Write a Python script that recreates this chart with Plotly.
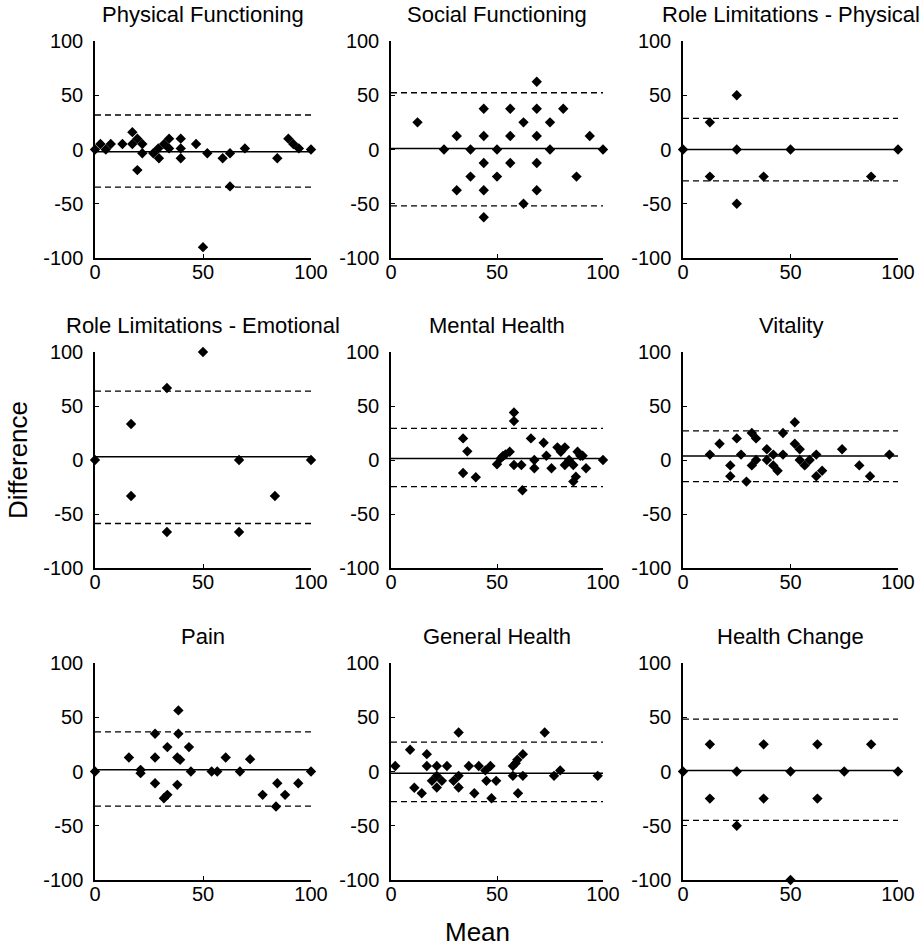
import plotly.graph_objects as go

titles = ["Physical Functioning", "Social Functioning", "Role Limitations - Physical",
          "Role Limitations - Emotional", "Mental Health", "Vitality",
          "Pain", "General Health", "Health Change"]

pf_x = [0, 2.5, 5, 7.3, 12.7, 17.3, 17.3, 19.6, 21.9, 19.6, 21.9, 27, 29.6, 29.3, 32, 34.3, 34.3,
        39.7, 39.7, 39.7, 46.8, 52, 50, 59.1, 62.5, 62.5, 69.4, 84.4, 89.5, 91.8, 94.4, 100]
pf_y = [0, 5, 0, 5, 5, 5, 16, 10, 5, -19, -3.5, -3.5, -8, 1, 5, 10, 1,
        10, 1, -8, 5, -3.5, -90, -8, -3.5, -34, 1, -8, 10, 5, 1, 0]

sf_x = [12.5, 25, 31, 31, 37.5, 37.5, 43.75, 43.75, 43.75, 43.75, 43.75, 50, 50, 56.25, 56.25, 56.25,
        62.5, 62.5, 68.75, 68.75, 68.75, 68.75, 68.75, 75, 75, 81.25, 87.5, 93.75, 100]
sf_y = [25, 0, 12.5, -37.5, 0, -25, 37.5, 12.5, -12.5, -37.5, -62.5, 0, -25, 37.5, 12.5, -12.5,
        25, -50, 62.5, 37.5, 12.5, -12.5, -37.5, 25, 0, 37.5, -25, 12.5, 0]

rp_x = [0, 12.5, 12.5, 25, 25, 25, 37.5, 50, 87.5, 100]
rp_y = [0, 25, -25, 50, 0, -50, -25, 0, -25, 0]

re_x = [0, 16.7, 16.7, 33.3, 33.3, 50, 66.7, 66.7, 83.3, 100]
re_y = [0, 33.3, -33.3, 66.7, -66.7, 100, 0, -66.7, -33.3, 0]

mh_x = [34, 36, 34, 40, 50, 51.7, 52.8, 54, 56, 58, 58, 58, 61.5, 62, 66, 67.6, 67.6, 72, 73.3, 75.7,
        78.5, 80.1, 82, 82, 84, 86, 86, 87.2, 88, 89.3, 90.4, 92, 100]
mh_y = [20, 8, -12, -16, -4, 1.5, 3.7, 5.2, 7.7, 44, 36, -4.6, -4.6, -28, 20, 0, -7.7, 16, 4, -7.7,
        11.7, 7.7, 11.7, -4.6, 0, -4.6, -20, -15.4, 7.7, 4, 4, -7.7, 0]

vt_x = [12.5, 17, 22, 22, 25, 27, 29.5, 32, 32, 34, 34, 39, 39, 42, 42, 44, 46.5, 46.5, 52, 52, 54.3,
        54.3, 56.6, 58.9, 62, 62, 64.7, 74, 82, 87, 96]
vt_y = [5, 15, -5, -15, 20, 5, -20, 25, -5, 20, 0, 10, 0, 5, -5, -10, 25, 5, 35, 15, 10,
        0, -5, 0, 5, -15, -10, 10, -5, -15, 5]

pn_x = [0, 15.7, 21.1, 21.1, 27.8, 27.8, 27.8, 31.9, 33.5, 33.5, 38.6, 38.6, 38.1, 39.4, 38.1, 43.5,
        44.4, 54, 56.6, 60.5, 67.1, 71.8, 77.6, 83.8, 84.4, 88, 94.1, 100]
pn_y = [0, 12.9, 1.5, -1.5, 34.8, 12.9, -10.8, -24.6, -21.5, 22.5, 56.3, 34.8, 12.9, 10.8, -12.3, 22.5,
        0, 0, 0, 12.9, 0, 11.4, -21.5, -32.3, -10.8, -21.5, -10.8, 0]

gh_x = [2, 9, 11, 14.5, 16.9, 16.9, 19.3, 21.6, 21.6, 21.6, 24, 26.4, 29.5, 31.9, 31.9, 31.9, 36.7,
        39.3, 41.4, 44.5, 46.9, 45, 47.4, 49.6, 57.5, 57.5, 58.8, 59.6, 62.2, 59.9, 62.2, 72.5, 76.9,
        79.8, 97.5]
gh_y = [5, 20, -15, -20, 16, 5, -8.6, 5, -4, -14.8, -8.6, 5, -8.6, -4, 36, -14.8, 5,
        -20, 5, 1, 5, -8.6, -24.6, -8.6, 5, -4, 7.7, 10.8, 16, -20, -4, 36, -4,
        1, -4]

hc_x = [0, 12.5, 12.5, 25, 25, 37.5, 37.5, 50, 50, 62.5, 62.5, 75, 87.5, 100]
hc_y = [0, 25, -25, 0, -50, 25, -25, 0, -100, 25, -25, 0, 25, 0]

mean_diff = [-2, 1, 0, 3, 1.5, 3.7, 1.5, -1.5, 1]
upper_loa = [31.8, 52.3, 28.6, 63.7, 29.2, 27, 36.6, 27, 48.3]
lower_loa = [-34.6, -52, -28.9, -58.8, -24.6, -20, -32, -27.7, -45]

xs = [pf_x, sf_x, rp_x, re_x, mh_x, vt_x, pn_x, gh_x, hc_x]
ys = [pf_y, sf_y, rp_y, re_y, mh_y, vt_y, pn_y, gh_y, hc_y]

x_ticks = [0, 50, 100]
x_tick_labels = ["0", "50", "100"]
y_ticks = [-100, -50, 0, 50, 100]
y_tick_labels = ["-100", "-50", "0", "50", "100"]

W, H = 921, 946
col_px = [(95, 311), (391, 603), (683, 898)]
row_px = [(41, 258), (352, 568), (663, 880)]

FONT = "Liberation Sans, Arial, sans-serif"
fig = go.Figure()
layout = dict(template="none", width=W, height=H, margin=dict(l=0, r=0, t=0, b=0, pad=0),
              plot_bgcolor="white", paper_bgcolor="white", showlegend=False,
              font=dict(family=FONT, color="black", size=20))
annotations = []
for i in range(9):
    r, c = divmod(i, 3)
    xa = "xaxis" if i == 0 else f"xaxis{i+1}"
    ya = "yaxis" if i == 0 else f"yaxis{i+1}"
    xref = "x" if i == 0 else f"x{i+1}"
    yref = "y" if i == 0 else f"y{i+1}"
    x0, x1 = col_px[c]
    y0, y1 = row_px[r]
    axcommon = dict(showline=True, linecolor="black", linewidth=1.5, ticks="inside",
                    ticklen=4, tickwidth=1, tickcolor="black", showgrid=False, zeroline=False,
                    mirror=False, fixedrange=True, automargin=False,
                    tickfont=dict(size=20, family=FONT, color="black"))
    layout[xa] = dict(domain=[x0 / W, x1 / W], range=[0, 100], tickvals=x_ticks,
                      ticktext=x_tick_labels, anchor=yref, ticklabelstandoff=-5, **axcommon)
    layout[ya] = dict(domain=[1 - y1 / H, 1 - y0 / H], range=[-100, 100], tickvals=y_ticks,
                      ticktext=y_tick_labels, anchor=xref, ticklabelstandoff=6, **axcommon)
    fig.add_trace(go.Scatter(x=[0, 100], y=[upper_loa[i]] * 2, mode="lines",
                             line=dict(color="black", width=1.3, dash="6px,4px"),
                             xaxis=xref, yaxis=yref, cliponaxis=False, hoverinfo="skip"))
    fig.add_trace(go.Scatter(x=[0, 100], y=[lower_loa[i]] * 2, mode="lines",
                             line=dict(color="black", width=1.3, dash="6px,4px"),
                             xaxis=xref, yaxis=yref, cliponaxis=False, hoverinfo="skip"))
    fig.add_trace(go.Scatter(x=[0, 100], y=[mean_diff[i]] * 2, mode="lines",
                             line=dict(color="black", width=1.5),
                             xaxis=xref, yaxis=yref, cliponaxis=False, hoverinfo="skip"))
    fig.add_trace(go.Scatter(x=xs[i], y=ys[i], mode="markers",
                             marker=dict(symbol="diamond", color="black", size=8,
                                         line=dict(width=0)),
                             xaxis=xref, yaxis=yref, cliponaxis=False))
    annotations.append(dict(text=titles[i], x=(x0 + x1) / 2 / W, y=1 - y0 / H,
                            xref="paper", yref="paper", xanchor="center", yanchor="bottom",
                            yshift=12, showarrow=False,
                            font=dict(size=22, family=FONT, color="black")))

annotations.append(dict(text="Difference", x=18 / W, y=1 - 460 / H, xref="paper", yref="paper",
                        textangle=-90, showarrow=False, xanchor="center", yanchor="middle",
                        font=dict(size=26, family=FONT, color="black")))
annotations.append(dict(text="Mean", x=477 / W, y=1 - 932 / H, xref="paper", yref="paper",
                        showarrow=False, xanchor="center", yanchor="middle",
                        font=dict(size=26, family=FONT, color="black")))
layout["annotations"] = annotations
fig.update_layout(**layout)
fig.write_html("out.html", config={"displayModeBar": False},
               post_script="document.body.style.margin='0';document.body.style.overflow='hidden';")
